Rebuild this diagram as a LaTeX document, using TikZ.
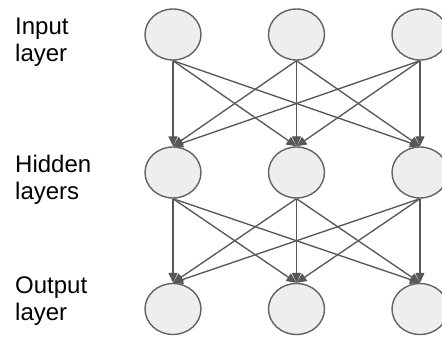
\documentclass[tikz,border=0pt]{standalone}
\usepackage{fontspec}
\setmainfont{Liberation Sans}
\usetikzlibrary{shapes.geometric,arrows.meta}

\definecolor{unitfill}{HTML}{EEEEEE}
\definecolor{unitline}{HTML}{626262}
\definecolor{linkline}{HTML}{585858}

\tikzset{
  unit/.style={ellipse, draw=unitline, fill=unitfill, line width=1.4pt,
    minimum width=56pt, minimum height=51pt, inner sep=0pt},
  link/.style={draw=linkline, line width=1.35pt,
    -{Triangle[length=10pt,width=9pt]}},
  layername/.style={anchor=north west, inner sep=0pt, align=left,
    font=\fontsize{24}{27}\selectfont}
}

\begin{document}
\begin{tikzpicture}[x=1pt, y=-1pt]
    \useasboundingbox (0, 0) rectangle (442, 337);

    \node[layername] (tin) at (15, 18) {Input\\layer};
    \node[layername] (thid) at (15, 155) {Hidden\\layers};
    \node[layername] (tout) at (15, 277) {Output\\layer};

    \node[unit] (i1) at (173, 34.5) {};
    \node[unit] (i2) at (296.5, 34.5) {};
    \node[unit] (i3) at (420, 34.5) {};

    \node[unit] (h1) at (173, 172.5) {};
    \node[unit] (h2) at (296.5, 172.5) {};
    \node[unit] (h3) at (420, 172.5) {};

    \node[unit] (o1) at (173, 309) {};
    \node[unit] (o2) at (296.5, 309) {};
    \node[unit] (o3) at (420, 309) {};

    \draw[link] (i1.south) -- (h1.north);
    \draw[link] (i1.south) -- (h2.north);
    \draw[link] (i1.south) -- (h3.north);
    \draw[link] (i2.south) -- (h1.north);
    \draw[link] (i2.south) -- (h2.north);
    \draw[link] (i2.south) -- (h3.north);
    \draw[link] (i3.south) -- (h1.north);
    \draw[link] (i3.south) -- (h2.north);
    \draw[link] (i3.south) -- (h3.north);

    \draw[link] (h1.south) -- (o1.north);
    \draw[link] (h1.south) -- (o2.north);
    \draw[link] (h1.south) -- (o3.north);
    \draw[link] (h2.south) -- (o1.north);
    \draw[link] (h2.south) -- (o2.north);
    \draw[link] (h2.south) -- (o3.north);
    \draw[link] (h3.south) -- (o1.north);
    \draw[link] (h3.south) -- (o2.north);
    \draw[link] (h3.south) -- (o3.north);

  \end{tikzpicture}
\end{document}
